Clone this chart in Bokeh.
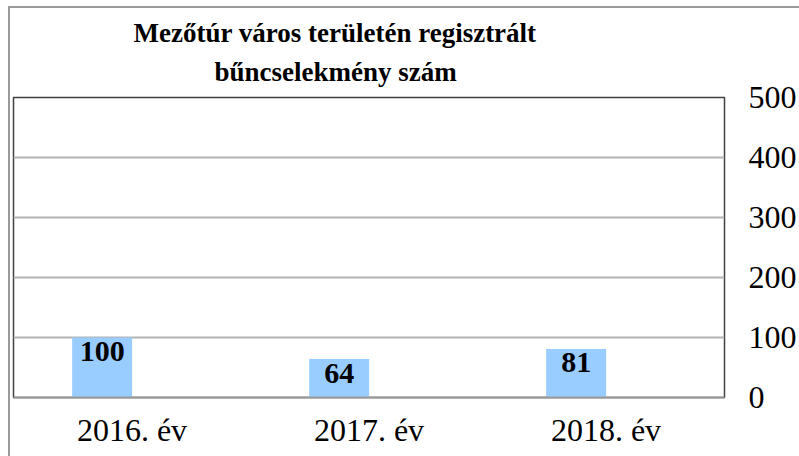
from bokeh.plotting import figure
from bokeh.models import ColumnDataSource, FixedTicker, Title, Range1d, InlineStyleSheet
from bokeh.transform import dodge
from bokeh.embed import file_html
from bokeh.resources import INLINE

categories = ["2016. év", "2017. év", "2018. év"]
values = [100, 64, 81]
value_labels = ["100", "64", "81"]
y_ticks = [0, 100, 200, 300, 400, 500]
title_lines = ["Mezőtúr város területén regisztrált", "bűncselekmény szám"]

FONT = "Liberation Serif"

src = ColumnDataSource(dict(cat=categories, val=values, lab=value_labels))

p = figure(
    x_range=categories,
    y_range=Range1d(0, 500),
    width=799, height=456,
    output_backend="svg", toolbar_location=None,
    y_axis_location="right",
    min_border_left=13, min_border_right=74,
    min_border_top=97, min_border_bottom=59,
    background_fill_color="white", border_fill_color="white",
)
p.title.visible = False

p.vbar(x=dodge("cat", -0.126, range=p.x_range), top="val", width=0.253,
       source=src, fill_color="#99CCFF", line_color=None)

p.text(x=dodge("cat", -0.126, range=p.x_range), y="val", text="lab", source=src,
       text_font=FONT, text_font_style="bold", text_font_size="30px",
       text_align="center", text_baseline="alphabetic", y_offset=14,
       text_color="black")

# grid
p.xgrid.visible = False
p.ygrid.ticker = FixedTicker(ticks=y_ticks)
p.ygrid.grid_line_color = "#b3b3b3"
p.ygrid.grid_line_width = 2

p.outline_line_color = "#404040"
p.outline_line_width = 1.5

# x axis
xa = p.xaxis[0]
xa.axis_line_color = "#999999"
xa.axis_line_width = 2
xa.major_tick_line_color = None
xa.minor_tick_line_color = None
xa.major_label_text_font = FONT
xa.major_label_text_font_size = "32px"
xa.major_label_text_color = "black"
xa.major_label_standoff = 8

# y axis (right)
ya = p.yaxis[0]
ya.ticker = FixedTicker(ticks=y_ticks)
ya.axis_line_color = None
ya.major_tick_line_color = None
ya.minor_tick_line_color = None
ya.major_label_text_font = FONT
ya.major_label_text_font_size = "32px"
ya.major_label_text_color = "black"
ya.major_label_standoff = 18

# title (first added sits closest to the frame)
for line, off, so in [(title_lines[1], 201, 22), (title_lines[0], 120, -8)]:
    p.add_layout(Title(text=line, align="left", offset=off, text_font=FONT,
                       text_font_style="bold", text_font_size="27px",
                       text_color="black", standoff=so), "above")

# outer border of the chart area
p.stylesheets = [InlineStyleSheet(css=(
    ":host { position: relative; }"
    ":host::after { content: ''; position: absolute; left: 8px; top: 6px;"
    " right: 0; bottom: 0; border-left: 2px solid #9a9a9a;"
    " border-top: 2px solid #9a9a9a; pointer-events: none; }"
))]

open("out.html", "w").write(file_html(p, INLINE))
